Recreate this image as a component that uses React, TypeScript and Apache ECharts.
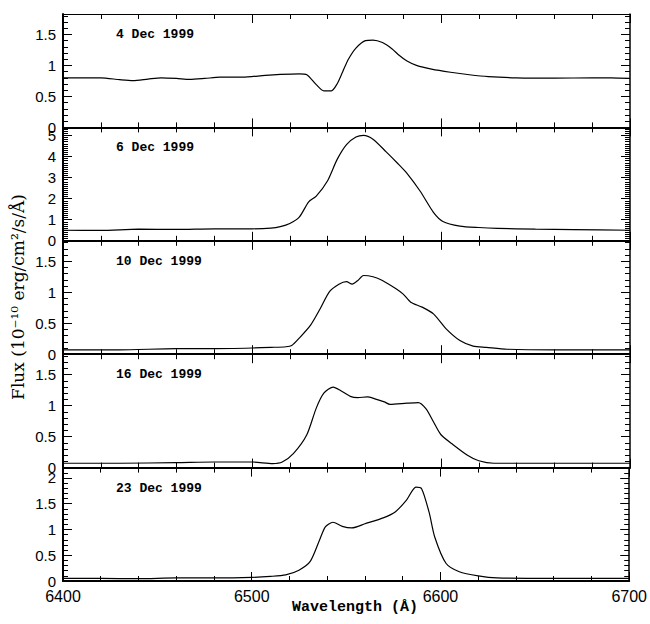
import React, { useEffect, useRef } from "react";
import * as echarts from "echarts";

const panelLabels = ["4 Dec 1999", "6 Dec 1999", "10 Dec 1999", "16 Dec 1999", "23 Dec 1999"];
const yMax = [1.83, 5.38, 1.83, 1.83, 2.2];
const yInterval = [0.5, 1, 0.5, 0.5, 0.5];
const yMinorSplit = [5, 10, 5, 5, 5];
const xTicks = [6400, 6500, 6600, 6700];

const wl1 = [6400, 6410, 6420, 6430, 6437, 6445, 6452, 6460, 6467, 6475, 6483, 6495, 6507, 6515, 6525, 6529, 6534, 6538, 6542, 6545, 6548, 6551, 6555, 6560, 6564, 6569, 6574, 6578, 6582, 6587, 6595, 6605, 6615, 6625, 6640, 6660, 6680, 6690, 6700];
const flux1 = [0.8, 0.8, 0.8, 0.77, 0.755, 0.78, 0.8, 0.79, 0.775, 0.79, 0.81, 0.81, 0.84, 0.855, 0.865, 0.85, 0.69, 0.59, 0.59, 0.7, 0.9, 1.1, 1.28, 1.4, 1.41, 1.37, 1.27, 1.16, 1.07, 1.0, 0.94, 0.89, 0.85, 0.82, 0.8, 0.795, 0.8, 0.8, 0.79];

const wl2 = [6400, 6420, 6440, 6460, 6480, 6500, 6510, 6515, 6520, 6525, 6530, 6534, 6540, 6545, 6550, 6555, 6559, 6564, 6571, 6577, 6582, 6589, 6596, 6601, 6610, 6620, 6630, 6650, 6670, 6700];
const flux2 = [0.5, 0.49, 0.55, 0.54, 0.57, 0.57, 0.6, 0.67, 0.82, 1.12, 1.85, 2.12, 2.85, 3.85, 4.56, 4.92, 5.0, 4.82, 4.22, 3.68, 3.2, 2.35, 1.35, 0.92, 0.7, 0.63, 0.59, 0.55, 0.53, 0.5];

const wl3 = [6400, 6430, 6460, 6480, 6500, 6510, 6518, 6521, 6525, 6531, 6536, 6541, 6546, 6550, 6553, 6556, 6559, 6564, 6569, 6576, 6580, 6584, 6590, 6596, 6603, 6610, 6617, 6624, 6635, 6660, 6700];
const flux3 = [0.07, 0.07, 0.09, 0.09, 0.1, 0.11, 0.12, 0.14, 0.26, 0.47, 0.73, 1.01, 1.13, 1.17, 1.13, 1.19, 1.27, 1.25, 1.19, 1.06, 0.97, 0.84, 0.76, 0.65, 0.4, 0.22, 0.13, 0.11, 0.08, 0.07, 0.07];

const wl4 = [6400, 6430, 6460, 6480, 6500, 6511, 6516, 6522, 6529, 6534, 6538, 6543, 6547, 6552, 6556, 6561, 6565, 6570, 6573, 6582, 6588, 6592, 6596, 6600, 6606, 6614, 6620, 6628, 6650, 6700];
const flux4 = [0.07, 0.07, 0.08, 0.09, 0.09, 0.065, 0.09, 0.23, 0.53, 0.96, 1.2, 1.3, 1.24, 1.15, 1.13, 1.14, 1.11, 1.06, 1.02, 1.04, 1.05, 0.95, 0.74, 0.53, 0.38, 0.2, 0.11, 0.07, 0.07, 0.07];

const wl5 = [6400, 6420, 6440, 6460, 6480, 6500, 6510, 6518, 6525, 6531, 6536, 6539, 6543, 6548, 6553, 6560, 6570, 6576, 6582, 6587, 6590, 6594, 6597, 6603, 6610, 6620, 6630, 6660, 6700];
const flux5 = [0.05, 0.05, 0.045, 0.06, 0.06, 0.07, 0.09, 0.12, 0.21, 0.38, 0.8, 1.05, 1.14, 1.06, 1.03, 1.11, 1.23, 1.34, 1.57, 1.82, 1.79, 1.33, 0.85, 0.34, 0.18, 0.1, 0.06, 0.05, 0.05];

const wls = [wl1, wl2, wl3, wl4, wl5];
const fluxes = [flux1, flux2, flux3, flux4, flux5];

const LEFT = 63;
const RIGHT = 20;
const TOP0 = 14;
const PH = 113.4;

export default function App() {
  const ref = useRef<HTMLDivElement>(null);
  useEffect(() => {
    if (!ref.current) return;
    const chart = echarts.init(ref.current, null, { renderer: "svg" });
    const grids: any[] = [];
    const xAxes: any[] = [];
    const yAxes: any[] = [];
    const series: any[] = [];
    const graphics: any[] = [];
    const lineCol = "#000";
    for (let i = 0; i < 5; i++) {
      const top = TOP0 + i * PH;
      grids.push({ left: LEFT, right: RIGHT, top, height: PH, containLabel: false });
      const isLast = i === 4;
      xAxes.push({
        type: "value",
        gridIndex: i,
        position: "bottom",
        min: 6400,
        max: 6700,
        interval: 100,
        axisLine: { show: true, onZero: false, lineStyle: { color: lineCol, width: 2 } },
        axisTick: { show: true, inside: true, length: 9, lineStyle: { color: lineCol, width: 1 } },
        minorTick: { show: true, splitNumber: 5, length: 5, lineStyle: { color: lineCol, width: 1 } },
        axisLabel: {
          show: isLast,
          color: "#000",
          fontSize: 16,
          fontFamily: "Liberation Sans, Arial, sans-serif",
          margin: 7,
          formatter: (v: number) => (xTicks.includes(v) ? String(v) : ""),
        },
        splitLine: { show: false },
      });
      xAxes.push({
        type: "value",
        gridIndex: i,
        position: "top",
        min: 6400,
        max: 6700,
        interval: 100,
        axisLine: { show: true, onZero: false, lineStyle: { color: lineCol, width: i === 0 ? 1 : 2 } },
        axisTick: { show: true, inside: true, length: 9, lineStyle: { color: lineCol, width: 1 } },
        minorTick: { show: true, splitNumber: 5, length: 5, lineStyle: { color: lineCol, width: 1 } },
        axisLabel: { show: false },
        splitLine: { show: false },
      });
      const iv = yInterval[i];
      yAxes.push({
        type: "value",
        gridIndex: i,
        position: "left",
        min: 0,
        max: yMax[i],
        interval: iv,
        axisLine: { show: true, onZero: false, lineStyle: { color: lineCol, width: 2 } },
        axisTick: { show: true, inside: true, length: 9, lineStyle: { color: lineCol, width: 1 } },
        minorTick: { show: true, splitNumber: yMinorSplit[i], length: 5, lineStyle: { color: lineCol, width: 1 } },
        axisLabel: {
          show: true,
          color: "#000",
          fontSize: 15,
          fontFamily: "Liberation Sans, Arial, sans-serif",
          margin: 7,
          showMaxLabel: false,
          formatter: (v: number) => {
            const k = v / iv;
            return Math.abs(k - Math.round(k)) < 1e-6 ? String(Math.round(v * 10) / 10) : "";
          },
        },
        splitLine: { show: false },
      });
      yAxes.push({
        type: "value",
        gridIndex: i,
        position: "right",
        min: 0,
        max: yMax[i],
        interval: iv,
        axisLine: { show: true, onZero: false, lineStyle: { color: lineCol, width: 1.5 } },
        axisTick: { show: true, inside: true, length: 9, lineStyle: { color: lineCol, width: 1 } },
        minorTick: { show: true, splitNumber: yMinorSplit[i], length: 5, lineStyle: { color: lineCol, width: 1 } },
        axisLabel: { show: false },
        splitLine: { show: false },
      });
      series.push({
        type: "line",
        xAxisIndex: i * 2,
        yAxisIndex: i * 2,
        data: wls[i].map((w, j) => [w, fluxes[i][j]]),
        symbol: "none",
        smooth: 0.25,
        lineStyle: { color: "#000", width: 1.2 },
        silent: true,
      });
      graphics.push({
        type: "text",
        left: 116,
        top: top + 14,
        style: {
          text: panelLabels[i],
          fill: "#000",
          font: "bold 13px 'Liberation Mono', 'DejaVu Sans Mono', monospace",
        },
      });
    }
    graphics.push({
      type: "text",
      x: 18,
      y: 297,
      rotation: Math.PI / 2,
      style: {
        text: "Flux (10⁻¹⁰ erg/cm²/s/Å)",
        fill: "#000",
        font: "17px 'DejaVu Serif', 'Liberation Serif', serif",
        textAlign: "center",
        textVerticalAlign: "middle",
      },
    });
    graphics.push({
      type: "text",
      x: 355,
      y: 607,
      style: {
        text: "Wavelength (Å)",
        fill: "#000",
        font: "bold 15px 'Liberation Mono', 'DejaVu Sans Mono', monospace",
        textAlign: "center",
        textVerticalAlign: "middle",
      },
    });
    chart.setOption({
      animation: false,
      backgroundColor: "#fff",
      grid: grids,
      xAxis: xAxes,
      yAxis: yAxes,
      series,
      graphic: graphics,
    });
    return () => chart.dispose();
  }, []);
  return <div ref={ref} style={{ width: 650, height: 624, position: "absolute", left: 0, top: 0 }} />;
}
